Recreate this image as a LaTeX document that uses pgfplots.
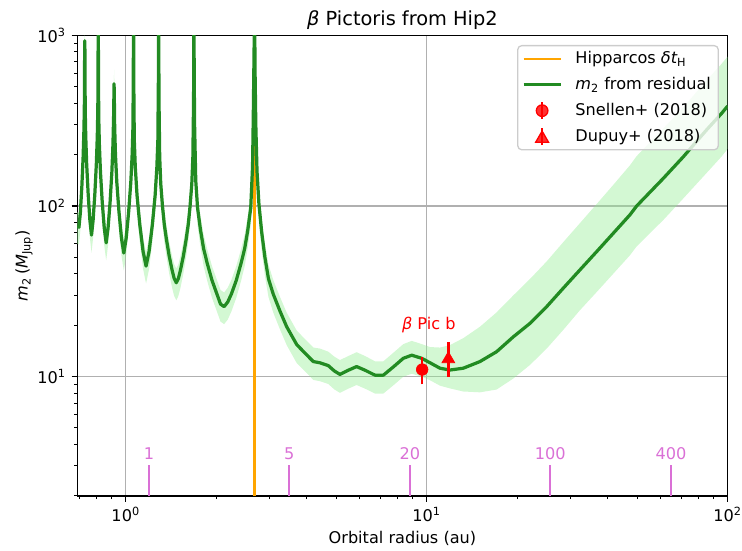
\documentclass[border=0pt]{standalone}
\usepackage{fontspec}
\setmainfont{DejaVu Sans}
\usepackage{pgfplots}
\usepackage{pgfplotstable}
\usepgfplotslibrary{fillbetween}
\pgfplotsset{compat=1.18}
\definecolor{mplgreen}{HTML}{228B22}
\definecolor{lgreen}{HTML}{90EE90}
\definecolor{mplorange}{HTML}{FFA500}
\definecolor{orchid}{HTML}{DA70D6}
\definecolor{gridgray}{HTML}{B0B0B0}
\definecolor{legframe}{HTML}{CCCCCC}
\pgfplotsset{
  lineleg/.style={legend image code/.code={\draw[##1] (0pt,0pt) -- (23pt,0pt); \path[draw=none, fill=none] (0pt,0pt) -- (30.2pt,0pt);}},
  errleg/.style={legend image code/.code={\draw[red, line width=1.5pt] (11.5pt,-5.2pt) -- (11.5pt,5.2pt); \draw[##1] plot coordinates {(11.5pt,0pt)}; \path[draw=none, fill=none] (0pt,0pt) -- (30.2pt,0pt);}},
}

% orbital radius (au), m2 (Mjup), band upper, band lower
\pgfplotstableread{
x m hi lo
0.690 76 92.0 60.0
0.699 75 90.8 59.3
0.7067 91.5 110.7 72.3
0.7149 131 158.5 103.5
0.7219 195 236 154
0.7265 285 345 225
0.7290 412 498.5 325.5
0.7303 800 968 632
0.7310 930 1125 735
0.7318 800 968 632
0.7333 371 449 293
0.7363 257 311 203
0.7416 176 213 139
0.7501 118 142.8 93.2
0.7602 82.4 99.7 65.1
0.7696 67.5 81.7 53.3
0.7791 82.4 99.7 65.1
0.7896 118 142.8 93.2
0.7986 176 213 139
0.8044 257 311 203
0.8077 371 449 293
0.8094 810 980 640
0.8099 2025 2450 1600
0.8102 3000 3630 2370
0.8105 1824 2207 1441
0.8112 730 883 577
0.8132 334 404 264
0.8171 231 279.5 182.5
0.8241 158 191.2 124.8
0.8352 106 128.3 83.7
0.8484 74.2 89.8 58.6
0.8609 60.8 73.6 48.0
0.8734 74.2 89.8 58.6
0.8873 106 128.3 83.7
0.8992 158 191.2 124.8
0.9069 231 279.5 182.5
0.9113 334 404 264
0.9135 450 544.5 355.5
0.9146 520 629 411
0.9160 450 544.5 355.5
0.9187 292 353 231
0.9242 201 243 159
0.9338 138 167 109
0.9493 92.8 112.3 73.3
0.9678 64.7 78.3 51.1
0.9852 53 64.1 41.9
1.0031 64.7 78.3 51.1
1.0227 92.8 112.3 73.3
1.0395 138 167 109
1.0504 201 243 159
1.0567 292 353 231
1.0598 636 770 502
1.0609 1590 1924 1256
1.0614 3000 3630 2370
1.0620 1332 1612 1052
1.0634 533 645 421
1.0675 244 295 193
1.0757 169 204.5 133.5
1.0903 115 139.2 90.9
1.1135 77.7 94.0 61.4
1.1417 54.2 65.6 42.8
1.1682 44.4 53.7 35.1
1.1956 54.2 65.6 42.8
1.2258 77.7 94.0 61.4
1.2519 115 139.2 90.9
1.2688 169 204.5 133.5
1.2786 244 295 193
1.2835 533 645 421
1.2853 1332 1612 1052
1.2860 3000 3630 2370
1.2870 1065 1289 841
1.2895 426 515 337
1.2965 195 236 154
1.3070 135 163.4 106.7
1.3248 99.4 120.3 78.5
1.3428 78.1 94.5 61.7
1.3648 63.9 77.3 50.5
1.3946 50.8 61.5 40.1
1.4251 42.2 51.1 33.3
1.4484 37.6 45.5 29.7
1.4721 35.5 43.0 28.0
1.4960 37.6 45.5 29.7
1.5205 42.2 51.1 33.3
1.5538 50.8 61.5 40.1
1.5877 63.9 77.3 50.5
1.6137 78.1 94.5 61.7
1.6356 99.4 120.3 78.5
1.6579 135 163.4 106.7
1.6714 195 236 154
1.6805 426 515 337
1.6836 1065 1289 841
1.6850 3000 3630 2370
1.6873 768 929 607
1.6928 307 371 243
1.7085 141 170.6 111.4
1.7324 97.3 117.7 76.9
1.7729 71.7 86.8 56.6
1.8143 56.3 68.1 44.5
1.8653 46.1 55.8 36.4
1.9356 36.6 44.3 28.9
2.0085 30.5 36.9 24.1
2.0650 26.6 32.2 21.0
2.1230 25.7 31.1 20.3
2.1828 27.4 33.2 21.6
2.2442 30.5 36.9 24.1
2.3287 36.6 44.3 28.9
2.4164 46.1 55.8 36.4
2.4843 56.3 68.1 44.5
2.5424 71.7 86.8 56.6
2.6018 97.3 117.7 76.9
2.6382 170 205.7 134.3
2.6530 330 399 261
2.6713 900 1089 711
2.6750 3000 3630 2370
2.680 1400 1694 1092
2.690 600 726 468
2.705 300 363 234
2.73 160 193.6 124.8
2.77 103 124.6 80.3
2.83 70 84.7 54.6
2.90 50 60.5 39.0
2.98 37.5 45.4 29.3
3.09 30.5 36.9 23.8
3.255 24.2 29.3 18.9
3.426 19.6 23.7 15.3
3.70 15.4 18.6 12.0
3.994 13.4 16.2 10.5
4.20 12.25 14.8 9.56
4.42 12.05 14.6 9.40
4.71 11.6 14.0 9.05
4.93 10.8 13.1 8.42
5.15 10.3 12.5 8.03
5.49 10.9 13.2 8.50
5.85 11.45 13.9 8.93
6.24 10.9 13.2 8.50
6.73 10.2 12.3 7.96
7.18 10.2 12.3 7.96
7.75 11.4 13.8 8.89
8.36 12.8 15.5 9.98
8.92 13.35 16.2 10.4
9.63 12.8 15.5 9.98
10.26 12.05 14.9 9.52
11.07 11.2 14.8 8.85
11.95 10.93 15.3 8.53
13.23 11.2 16.8 8.18
15.03 12.25 19.6 8.09
17.08 14.0 23.8 8.40
19.40 17.1 29.9 9.75
22.03 20.5 37.3 11.7
25.04 25.7 47.3 14.6
28.44 33.0 61.4 18.8
32.30 42.2 79.3 24.5
36.71 54.0 102.6 31.3
41.69 69.2 132.9 40.1
47.35 88.7 173 51.4
49.86 100 196 58
61.1 145 284 82.7
71.2 194 378 110.6
85.1 279 544 156
95.5 349 681 195
100 385 751 216
}\curve

\begin{document}
\begin{tikzpicture}
\begin{axis}[
  at={(0,0)}, anchor=south west,
  scale only axis, width=403.3pt, height=285.6pt,
  xmode=log, ymode=log,
  xmin=0.69, xmax=100, ymin=2, ymax=1000,
  clip mode=individual,
  xtick={1,10,100},
  xticklabels={10\textsuperscript{0},10\textsuperscript{1},10\textsuperscript{2}},
  ytick={10,100,1000},
  yticklabels={10\textsuperscript{1},10\textsuperscript{2},10\textsuperscript{3}},
  minor xtick={0.7,0.8,0.9,2,3,4,5,6,7,8,9,20,30,40,50,60,70,80,90},
  minor ytick={2,3,4,5,6,7,8,9,20,30,40,50,60,70,80,90,200,300,400,500,600,700,800,900},
  tick pos=left, tick align=outside,
  major tick length=3.5pt, minor tick length=2pt,
  every tick/.style={black, line width=0.8pt},
  every minor tick/.style={black, line width=0.6pt},
  grid=major, major grid style={gridgray, line width=0.8pt},
  axis line style={line width=0.8pt},
  every axis title/.style={at={(0.5,1)}, anchor=base, yshift=5.8pt, font=\fontsize{12}{14}\selectfont},
  title={{\itshape β} Pictoris from Hip2},
  every axis x label/.style={at={(0.5,0)}, anchor=base, yshift=-29.8pt},
  every axis y label/.style={at={(0,0.5)}, xshift=-30.7pt, rotate=90, anchor=base},
  xlabel={Orbital radius (au)},
  ylabel={{\itshape m}\textsubscript{2}\,({\itshape M}\textsubscript{Jup})},
  legend cell align=left,
  lineleg,
  legend style={at={(0.9866,0.979)}, anchor=north east, draw=legframe, line width=0.8pt,
    rounded corners=2.5pt, fill=white, fill opacity=0.8, text opacity=1,
    inner xsep=2.6pt, inner ysep=1.6pt, row sep=3pt,
    font=\fontsize{10}{12}\selectfont},
]
% uncertainty band
\addplot[name path=bandhi, draw=none, forget plot] table[x=x, y=hi]{\curve};
\addplot[name path=bandlo, draw=none, forget plot] table[x=x, y=lo]{\curve};
\addplot[lgreen, fill opacity=0.4, draw=none, forget plot] fill between[of=bandhi and bandlo];

% Hipparcos baseline
\addplot[mplorange, line width=1.5pt] coordinates {(2.675,2) (2.675,1000)};
\addlegendentry{Hipparcos {\itshape δt}\textsubscript{H}}

% m2 curve
\addplot[mplgreen, line width=2pt, line join=round] table[x=x, y=m]{\curve};
\addlegendentry{{\itshape m}\textsubscript{2} from residual}

% period markers (yr)
\addplot[orchid, line width=1.2pt, forget plot] coordinates {(1.194,2) (1.194,3.04)};
\addplot[orchid, line width=1.2pt, forget plot] coordinates {(3.491,2) (3.491,3.04)};
\addplot[orchid, line width=1.2pt, forget plot] coordinates {(8.80,2) (8.80,3.04)};
\addplot[orchid, line width=1.2pt, forget plot] coordinates {(25.72,2) (25.72,3.04)};
\addplot[orchid, line width=1.2pt, forget plot] coordinates {(64.83,2) (64.83,3.04)};
\node[orchid, anchor=base] at (axis cs:1.194,3.28) {1};
\node[orchid, anchor=base] at (axis cs:3.491,3.28) {5};
\node[orchid, anchor=base] at (axis cs:8.80,3.28) {20};
\node[orchid, anchor=base] at (axis cs:25.72,3.28) {100};
\node[orchid, anchor=base] at (axis cs:64.83,3.28) {400};

% literature masses
\addplot[red, line width=1.5pt, forget plot] coordinates {(9.66,9) (9.66,13)};
\addplot[red, line width=1.5pt, forget plot] coordinates {(11.8,10) (11.8,16)};
\addplot[red, only marks, mark=*, mark size=3.6pt, errleg] coordinates {(9.66,11)};
\addlegendentry{Snellen+ (2018)}
\addplot[red, only marks, mark=triangle*, mark size=4.6pt, mark options={yshift=-1.15pt}, errleg] coordinates {(11.8,13)};
\addlegendentry{Dupuy+ (2018)}

\node[red, anchor=base] at (axis cs:10.16,18.96) {{\itshape β} Pic b};
\end{axis}
\pgfresetboundingbox
\path[use as bounding box] (-47.9pt,-34.1pt) rectangle (412.2pt,307.5pt);
\end{tikzpicture}
\end{document}
